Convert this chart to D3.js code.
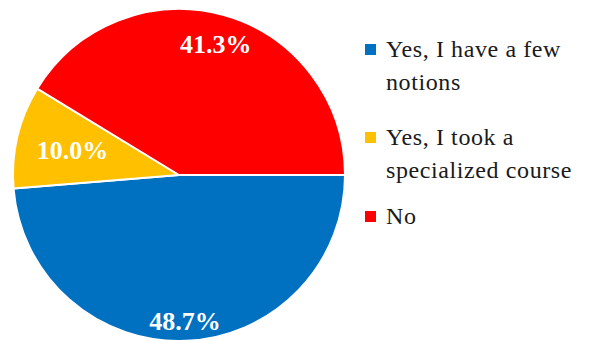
<!DOCTYPE html>
<html>
<head>
<meta charset="utf-8">
<script src="https://cdn.jsdelivr.net/npm/d3@7"></script>
</head>
<body style="margin:0">
<svg id="pie" width="592" height="341"></svg>
<script>
// Survey answers and their shares (percent)
const categories = ["Yes, I have a few notions", "Yes, I took a specialized course", "No"];
const legendLines = [["Yes, I have a few", "notions"], ["Yes, I took a", "specialized course"], ["No"]];
const values = [48.7, 10.0, 41.3];
const colors = ["#0070C0", "#FFC000", "#FF0000"];

const FONT = "Liberation Serif";
const svg = d3.select("#pie");
const cx = 179, cy = 175, r = 166;

const pie = d3.pie().sort(null).value(d => d)
  .startAngle(Math.PI / 2).endAngle(Math.PI / 2 + 2 * Math.PI);
const arcs = pie(values);
const arc = d3.arc().innerRadius(0).outerRadius(r);

const g = svg.append("g").attr("transform", `translate(${cx},${cy})`);

g.selectAll("path.slice")
  .data(arcs)
  .join("path")
  .attr("class", "slice")
  .attr("d", arc)
  .attr("fill", (d, i) => colors[i])
  .attr("stroke", "#fff")
  .attr("stroke-width", 2)
  .attr("stroke-linejoin", "round");

// Percentage labels inside the slices
const labelPos = [0.88, 0.66, 0.82];
g.selectAll("text.pct")
  .data(arcs)
  .join("text")
  .attr("class", "pct")
  .attr("transform", (d, i) => {
    const a = (d.startAngle + d.endAngle) / 2;
    const rr = r * labelPos[i];
    return `translate(${Math.sin(a) * rr},${-Math.cos(a) * rr})`;
  })
  .attr("text-anchor", "middle")
  .attr("dy", "0.35em")
  .attr("fill", "#fff")
  .attr("font-family", FONT)
  .style("font-family", FONT, "important")
  .attr("font-weight", "bold")
  .attr("font-size", 26)
  .text(d => d.data.toFixed(1) + "%");

// Legend
const legendY = [57, 145, 224];
const lg = svg.append("g");
legendLines.forEach((lines, i) => {
  lg.append("rect")
    .attr("x", 365).attr("y", legendY[i] - 13)
    .attr("width", 11).attr("height", 11)
    .attr("fill", colors[i]);
  const t = lg.append("text")
    .attr("x", 386).attr("y", legendY[i])
    .attr("font-family", FONT)
    .style("font-family", FONT, "important")
    .attr("font-size", 24)
    .attr("letter-spacing", 0.6)
    .attr("fill", "#1a1a1a");
  lines.forEach((ln, j) => {
    t.append("tspan").attr("x", 386).attr("dy", j === 0 ? 0 : 33).text(ln);
  });
});
</script>
</body>
</html>
